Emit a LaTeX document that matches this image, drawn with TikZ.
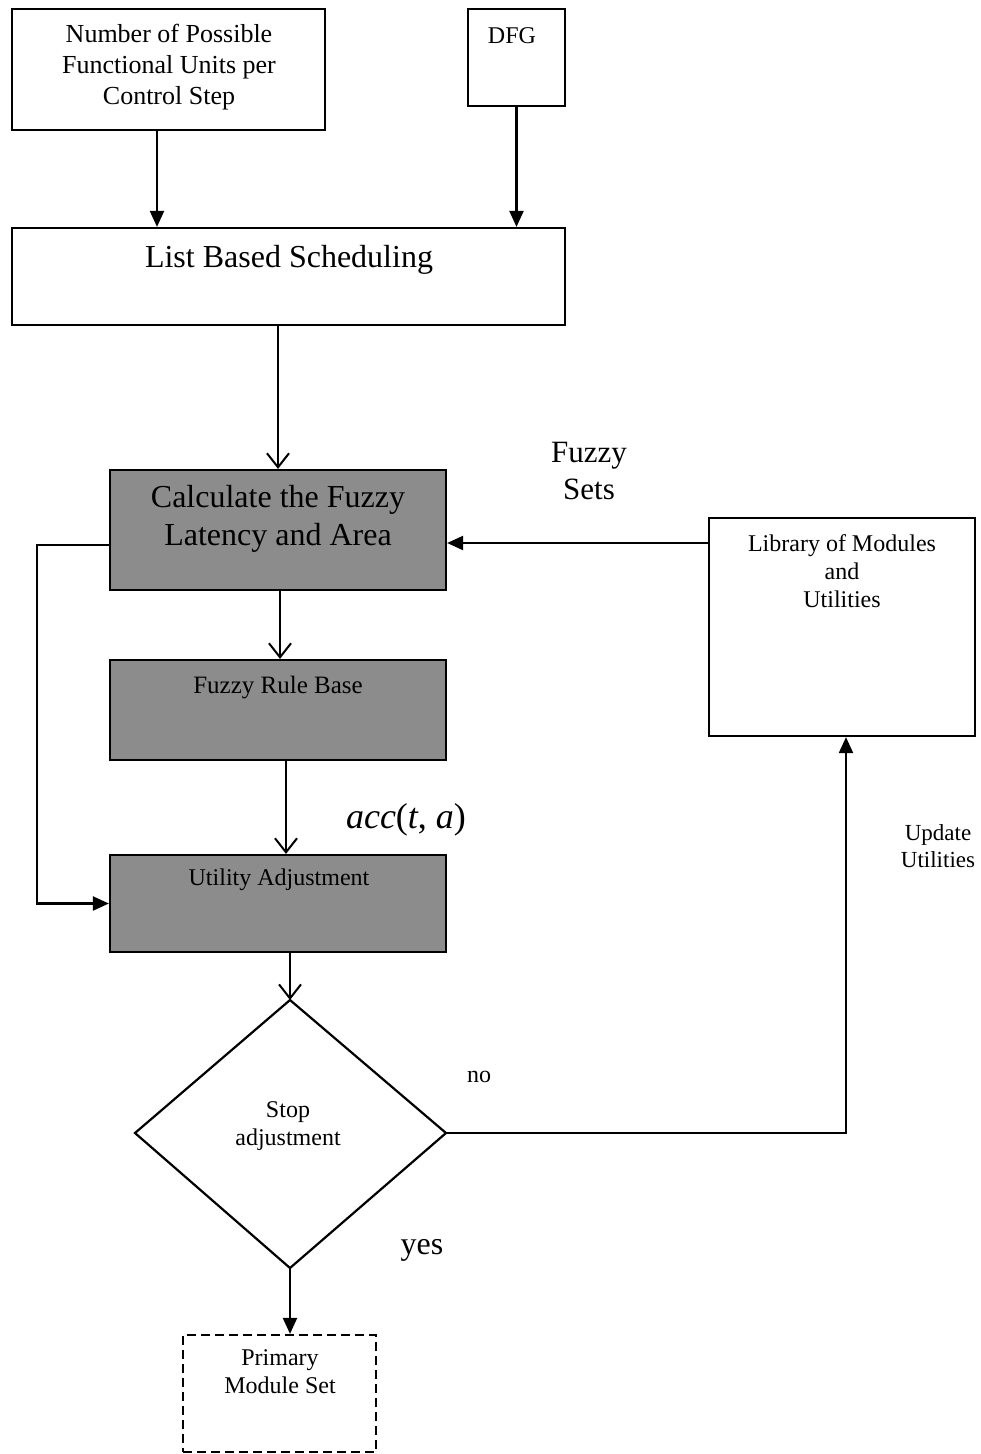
\documentclass[tikz,border=0pt]{standalone}
\usepackage{fontspec}
\setmainfont{Liberation Serif}
\usetikzlibrary{arrows.meta}
\begin{document}
\begin{tikzpicture}[x=1pt,y=-1pt,
  box/.style={draw,line width=2.2pt,rectangle,inner sep=0pt},
  shaded/.style={box,fill=black!45},
  txt/.style={align=center,inner sep=0pt,font=\fontsize{24}{28}\selectfont},
  bigtxt/.style={align=center,inner sep=0pt,font=\fontsize{32}{38}\selectfont},
  conn/.style={line width=2.2pt},
  tri/.style={conn,-{Triangle[length=16pt,width=14pt]}},
  barb/.style={conn,-{Straight Barb[length=14pt,width=22pt,line width=2pt]}}
]
\useasboundingbox (0,0) rectangle (981,1454);
% boxes
\node[box,minimum width=313pt,minimum height=121pt] (nfu) at (168.5,69.5) {};
\node[box,minimum width=97pt,minimum height=97pt] (dfg) at (516.5,57.5) {};
\node[box,minimum width=553pt,minimum height=97pt] (lbs) at (288.5,276.5) {};
\node[shaded,minimum width=336pt,minimum height=120pt] (calc) at (278,530) {};
\node[shaded,minimum width=336pt,minimum height=100pt] (frb) at (278,710) {};
\node[shaded,minimum width=336pt,minimum height=97pt] (ua) at (278,903.5) {};
\node[box,dashed,dash pattern=on 9pt off 5pt,minimum width=193pt,minimum height=117pt] (pms) at (279.5,1393.5) {};
\node[box,minimum width=266pt,minimum height=218pt] (lib) at (842,627) {};
% diamond
\coordinate (dT) at (290,1000);
\coordinate (dB) at (290,1268);
\coordinate (dL) at (135,1133);
\coordinate (dR) at (446,1133);
\draw[line width=2.2pt,line join=miter] (dT) -- (dR) -- (dB) -- (dL) -- cycle;
% texts
\node[txt,font=\fontsize{26}{31}\selectfont] (tnfu) at (169,67) {Number of Possible\\Functional Units per\\Control Step};
\node[txt] (tdfg) at (512,36) {DFG};
\node[bigtxt] (tlbs) at (289,260) {List Based Scheduling};
\node[bigtxt] (tcalc) at (278,519) {Calculate the Fuzzy\\Latency and Area};
\node[txt,font=\fontsize{25}{30}\selectfont] (tfrb) at (278,688) {Fuzzy Rule Base};
\node[txt] (tua) at (279,880) {Utility Adjustment};
\node[txt] (tdia) at (288,1126) {Stop\\adjustment};
\node[txt] (tpms) at (280,1372) {Primary\\Module Set};
\node[txt] (tlib) at (842,571) {Library of Modules\\and\\Utilities};
\node[bigtxt,font=\fontsize{31}{37}\selectfont] (tfs) at (589,471) {Fuzzy\\Sets};
\node[inner sep=0pt,font=\fontsize{36}{42}\selectfont] (tacc) at (406,820) {\textit{acc}(\textit{t}, \textit{a})};
\node[txt,font=\fontsize{23}{27}\selectfont] (tupd) at (938,846) {Update\\Utilities};
\node[txt] (tno) at (479,1077) {no};
\node[bigtxt] (tyes) at (422,1250) {yes};
% connectors
\draw[tri] ([xshift=-11.5pt]nfu.south) -- ([xshift=-11.5pt]nfu.south |- lbs.north);
\draw[tri] (dfg.south) -- (dfg.south |- lbs.north);
\draw[barb] (calc.north |- lbs.south) -- (calc.north);
\draw[barb] ([xshift=2pt]calc.south) -- ([xshift=2pt]frb.north);
\draw[barb] ([xshift=8pt]frb.south) -- ([xshift=8pt]ua.north);
\draw[barb] (dT |- ua.south) -- (dT);
\draw[tri] (dB) -- (dB |- pms.north);
\draw[tri] (dR) -| ([xshift=4pt]lib.south);
\draw[tri] ([yshift=-13pt]calc.east -| lib.west) -- ([yshift=-13pt]calc.east);
\draw[tri] ([yshift=-15pt]calc.west) -- ++(-72,0) |- (ua.west);
\end{tikzpicture}
\end{document}
